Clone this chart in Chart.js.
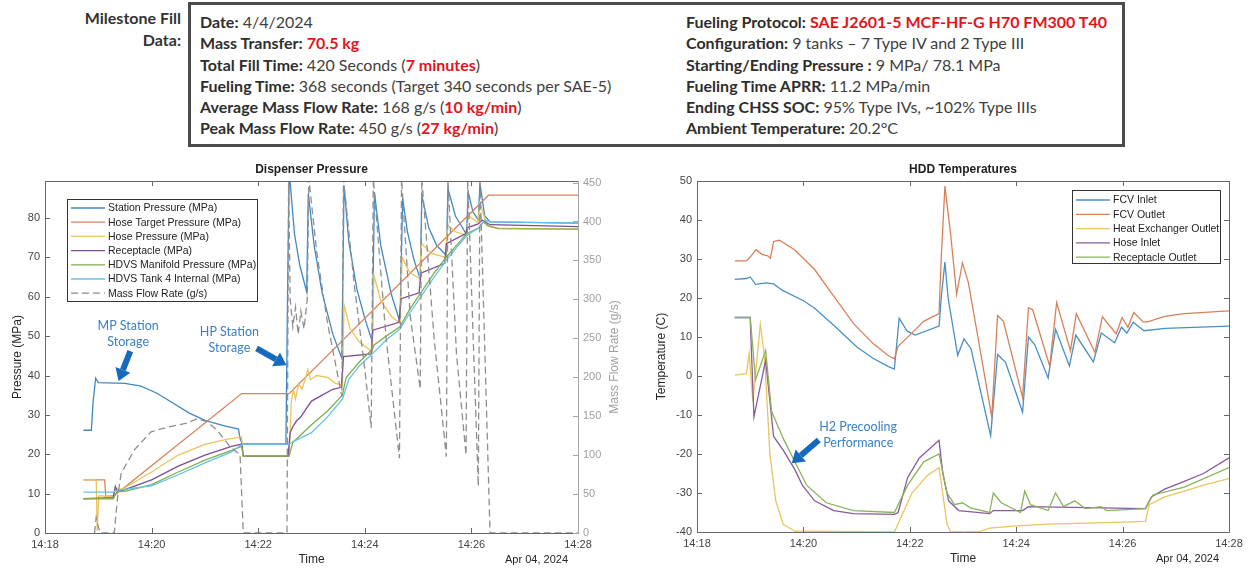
<!DOCTYPE html>
<html>
<head>
<meta charset="utf-8">
<script src="https://cdn.jsdelivr.net/npm/chart.js@4.4.1/dist/chart.umd.min.js"></script>
<style>
  body { margin:0; width:1250px; height:569px; background:#fff; position:relative; overflow:hidden; font-family:Lato, "Open Sans", sans-serif; }
  .side { position:absolute; left:40px; top:7px; width:141px; text-align:right; font-weight:700; font-size:16px; line-height:22px; color:#333; }
  .box { position:absolute; left:188px; top:2px; width:937px; height:145px; box-sizing:border-box; border:3px solid #4b4b4b; }
  .col { position:absolute; top:11px; font-size:16px; line-height:21.3px; color:#404040; white-space:nowrap; }
  .col b { color:#2e2e2e; font-weight:700; }
  .col .r { color:#e3141b; font-weight:700; }
  canvas { position:absolute; }
</style>
</head>
<body>
<div class="side">Milestone Fill<br>Data:</div>
<div class="box"></div>
<div class="col" style="left:200px">
  <div><b>Date:</b> 4/4/2024</div>
  <div><b>Mass Transfer:</b> <span class="r">70.5 kg</span></div>
  <div><b>Total Fill Time:</b> 420 Seconds (<span class="r">7 minutes</span>)</div>
  <div><b>Fueling Time:</b> 368 seconds (Target 340 seconds per SAE-5)</div>
  <div><b>Average Mass Flow Rate:</b> 168 g/s (<span class="r">10 kg/min</span>)</div>
  <div><b>Peak Mass Flow Rate:</b> 450 g/s (<span class="r">27 kg/min</span>)</div>
</div>
<div class="col" style="left:686px">
  <div><b>Fueling Protocol:</b> <span class="r">SAE J2601-5 MCF-HF-G H70 FM300 T40</span></div>
  <div><b>Configuration:</b> 9 tanks – 7 Type IV and 2 Type III</div>
  <div><b>Starting/Ending Pressure :</b> 9 MPa/ 78.1 MPa</div>
  <div><b>Fueling Time APRR:</b> 11.2 MPa/min</div>
  <div><b>Ending CHSS SOC:</b> 95% Type IVs, ~102% Type IIIs</div>
  <div><b>Ambient Temperature:</b> 20.2°C</div>
</div>
<canvas id="press" width="625" height="414" style="left:0;top:155px"></canvas>
<canvas id="temp" width="620" height="414" style="left:630px;top:155px"></canvas>
<script>
// time axis: minutes after 14:18 on Apr 04, 2024
var timeTicks = ['14:18', '14:20', '14:22', '14:24', '14:26', '14:28'];
var pressTicks = [0, 10, 20, 30, 40, 50, 60, 70, 80];
var flowTicks  = [0, 50, 100, 150, 200, 250, 300, 350, 400, 450];
var tempTicks  = [-40, -30, -20, -10, 0, 10, 20, 30, 40, 50];

// ── Dispenser Pressure (MPa, left axis) ──
var stationT = [0.72,0.87,0.9,0.95,1.0,1.5,1.8,2.1,2.4,2.7,3.0,3.35,3.63,3.66,3.7,4.52,4.55,4.58,4.6,4.68,4.78,4.91,4.94,5.05,5.2,5.4,5.57,5.61,5.7,5.85,6.0,6.14,6.18,6.3,6.5,6.66,6.71,6.8,6.92,7.04,7.07,7.2,7.35,7.53,7.56,7.7,7.91,7.94,8.03,8.13,8.16,8.25,8.35,10];
var stationP = [26.1,26.1,33,39.3,38.2,38,37.3,35.5,33,30.5,28.6,27.3,26.4,24,22.6,22.6,60,90,89,76,68,61.2,86.2,73,61,50.5,44.3,88.3,74,62,54.5,48.6,86.6,73,60.5,53.6,85,76.5,69.5,64.5,85.8,77.5,73,70.5,87.5,80.5,75.8,86.6,81.5,79.5,88.8,80.5,79,78.7];

var targetT = [0.72,1.12,1.14,1.3,3.69,4.58,8.32,10];
var targetP = [13.5,13.5,9.3,9.5,35.4,35.4,85.8,85.8];

var hoseT = [0.72,0.96,0.98,1.01,1.28,1.32,1.4,1.5,2.0,2.5,3.0,3.4,3.69,3.72,4.58,4.62,4.66,4.7,4.76,4.82,4.88,4.93,4.98,5.1,5.3,5.45,5.58,5.61,5.72,5.9,6.14,6.17,6.3,6.5,6.66,6.7,6.85,7.03,7.06,7.25,7.52,7.55,7.7,7.91,7.94,8.12,8.16,8.3,8.5,10];
var hoseP = [13.5,13.5,0.5,9.5,9.2,11.5,11,11.5,15.5,19.8,22.5,23.8,24.4,19.5,19.5,33,36.5,34,38,36.5,39,41.5,39,40,39.5,38,37.5,58,52,48.5,46,65.5,59,55,53.3,70,66,64.7,73.6,71,70,78.2,76.5,75.6,80.7,78.8,83.7,78,77.4,77.2];

var receptT = [0.72,1.28,1.32,1.36,1.5,2.0,2.5,3.0,3.5,3.69,3.72,4.56,4.6,4.65,4.72,4.8,4.9,5.0,5.2,5.4,5.56,5.6,6.12,6.15,6.64,6.68,7.02,7.05,7.5,7.53,7.89,7.92,8.13,8.2,8.35,10];
var receptP = [8.7,9,11.8,10.5,11,13.5,17,19.8,22,22.6,19.5,19.5,25.5,27,28.5,29.5,31.5,33.5,35,36.5,37,44.8,45.5,51.5,53.5,59.5,61,66,68.5,73.5,76,77.5,78.5,79.5,78.3,77.8];

var manifoldT = [0.72,1.28,1.35,1.5,2.0,2.5,3.0,3.5,3.69,3.72,4.58,4.65,5.0,5.3,5.58,5.65,5.9,6.14,6.17,6.4,6.66,6.85,7.04,7.3,7.53,7.75,7.91,8.14,8.22,8.32,8.5,10];
var manifoldP = [8.7,8.7,10.5,10.6,12.3,15.5,18.5,21,22,19.5,19.5,23,27.5,31,35,39.5,43.5,46.6,47.7,50,52.4,57,60.8,66,70.1,73.5,76,77.5,79,78,77.3,77.2];

var tankT = [0.72,1.28,1.35,2.0,2.5,3.0,3.5,3.7,4.55,4.6,5.0,5.3,5.58,5.7,5.9,6.14,6.4,6.66,6.85,7.04,7.3,7.53,7.75,7.91,8.14,8.25,8.35,10];
var tankP = [10.4,10.4,10.8,12.0,14.8,17.8,20.6,22.5,22.5,22.8,25.5,29.5,34,39,42.5,45.5,49,51.8,56,59.8,65,69.3,73,75.5,77.5,79.5,79,78.7];

// mass flow rate (g/s, right axis)
var flowT = [0.93,0.96,1.0,1.04,1.3,1.36,1.43,1.68,1.99,2.3,2.66,2.85,3.04,3.23,3.47,3.66,3.72,4.54,4.57,4.6,4.65,4.7,4.75,4.8,4.86,4.92,4.95,5.1,5.3,5.57,5.6,5.8,6.0,6.12,6.16,6.4,6.65,6.69,6.85,7.04,7.07,7.3,7.53,7.56,7.72,7.9,7.93,8.13,8.16,8.35,10];
var flowG = [0,20,8,0,0,45,77,107,130,136,141,146.5,143,132,111,100,0,0,455,300,265,290,255,285,262,300,455,360,270,175,455,320,210,135,455,250,96,455,280,185,455,250,98,455,230,100,455,60,455,0,0];

// ── HDD Temperatures (°C) ──
var fcvInT = [0.71,0.93,1.0,1.1,1.3,1.44,1.6,2.0,2.2,2.57,3.0,3.3,3.6,3.71,3.8,3.95,4.1,4.55,4.59,4.66,4.72,4.9,5.02,5.15,5.52,5.65,5.8,6.12,6.23,6.35,6.6,6.74,7.0,7.12,7.45,7.6,7.85,7.98,8.08,8.2,8.4,8.8,10];
var fcvInC = [24.8,25,25.4,23.5,23.9,23.6,22,19.3,17.5,13,7.5,4.6,2.4,1.8,14.8,11.5,10.5,12.8,20,29.2,20,5.3,9.5,7,-15.3,5.5,3.5,-9.3,10,8,-0.5,12,2.6,10.5,3.6,11,8.5,12.5,11,13.8,11.6,12.2,12.8];

var fcvOutT = [0.71,0.93,1.0,1.11,1.22,1.33,1.38,1.44,1.55,1.84,2.21,2.57,2.94,3.31,3.6,3.71,3.78,4.04,4.26,4.55,4.59,4.66,4.77,4.88,4.99,5.1,5.28,5.54,5.65,5.76,6.12,6.23,6.31,6.63,6.76,7.02,7.13,7.48,7.62,7.88,7.99,8.1,8.21,8.39,8.5,8.79,9.16,10];
var fcvOutC = [29.5,29.5,30.5,32.4,31.2,30.8,30.2,34.5,34.8,32.3,27.3,20.5,13.5,8.3,5.2,4.4,7.6,11,14,16,30,48.7,36,21,29,24,10,-10.5,15.5,14,-5.5,17.5,17,2.5,18.8,6.5,16,6,15.2,10.8,15,12.5,16.3,13.8,14,15.3,16,16.7];

var hxOutT = [0.71,0.93,0.98,1.05,1.19,1.27,1.37,1.48,1.62,1.84,3.71,4.04,4.33,4.55,4.7,4.77,5.28,5.5,5.94,6.6,7.7,8.43,8.5,8.79,9.16,9.52,10];
var hxOutC = [0.2,0.6,5.8,-6.5,13.2,5,-20,-32,-38,-39.8,-40,-30,-25.5,-23.5,-38,-40,-40,-39,-38.5,-38,-37.6,-37.3,-33,-31,-29.5,-28,-26.3];

var hoseInT = [0.71,1.0,1.07,1.29,1.44,1.62,1.84,1.98,2.21,2.57,2.94,3.71,3.78,3.96,4.18,4.55,4.62,4.73,4.92,5.5,5.57,6.12,6.23,8.43,8.54,8.79,9.16,9.52,10];
var hoseInC = [15,15,-10.5,4,-15.5,-19,-24,-28,-32,-34.5,-35.3,-35.5,-35,-26,-21,-16.5,-25,-32,-34.5,-35.3,-34.5,-34.5,-33.5,-34,-31,-29,-27,-25,-21];

var recOutT = [0.71,1.0,1.1,1.29,1.4,1.62,1.84,2.06,2.43,2.94,3.71,3.96,4.26,4.55,4.7,4.84,4.99,5.14,5.5,5.57,5.72,6.08,6.16,6.27,6.6,6.74,6.89,7.1,7.3,7.6,7.7,8.43,8.57,9.16,10];
var recOutC = [15,15,-1,6.5,-9,-16,-22,-28,-32.5,-34.5,-35,-28,-22,-20,-30,-33,-32.5,-33.8,-35,-30,-32.5,-35,-29.5,-33,-34.5,-30,-33.5,-32,-34,-33.5,-34.5,-34,-30.5,-28.5,-23.5];

function pts(ts, vs) { return ts.map(function(t, i) { return { x:t, y:vs[i] }; }); }

var AXIS_FONT = { family:'"Liberation Sans", Arial, sans-serif', size:11 };

// MATLAB-ish frame: box, inward ticks, titles, inside legend, callouts
var framePlugin = {
  id: 'frame',
  afterDraw: function(chart, args, o) {
    var ctx = chart.ctx, a = chart.chartArea, sx = chart.scales.x, sy = chart.scales.y, sy2 = chart.scales.y2;
    ctx.save();
    ctx.lineWidth = 1;
    ctx.strokeStyle = '#666';
    ctx.beginPath();
    ctx.moveTo(a.left + .5, a.top + .5); ctx.lineTo(a.left + .5, a.bottom + .5);
    ctx.lineTo(a.right + .5, a.bottom + .5);
    ctx.moveTo(a.left + .5, a.top + .5); ctx.lineTo(a.right + .5, a.top + .5);
    if (!sy2) ctx.lineTo(a.right + .5, a.bottom + .5);
    sx.ticks.forEach(function(t) {
      var px = Math.round(sx.getPixelForValue(t.value)) + .5;
      ctx.moveTo(px, a.bottom); ctx.lineTo(px, a.bottom - 5);
      ctx.moveTo(px, a.top); ctx.lineTo(px, a.top + 5);
    });
    sy.ticks.forEach(function(t) {
      var py = Math.round(sy.getPixelForValue(t.value)) + .5;
      ctx.moveTo(a.left, py); ctx.lineTo(a.left + 5, py);
      if (!sy2) { ctx.moveTo(a.right, py); ctx.lineTo(a.right - 5, py); }
    });
    ctx.stroke();
    if (sy2) {
      ctx.strokeStyle = '#a6a6a6';
      ctx.beginPath();
      ctx.moveTo(a.right + .5, a.top); ctx.lineTo(a.right + .5, a.bottom + 1);
      sy2.ticks.forEach(function(t) {
        var py = Math.round(sy2.getPixelForValue(t.value)) + .5;
        ctx.moveTo(a.right, py); ctx.lineTo(a.right - 5, py);
      });
      ctx.stroke();
    }

    var cx = (a.left + a.right) / 2, cy = (a.top + a.bottom) / 2;
    ctx.fillStyle = '#1e1e1e';
    ctx.font = 'bold 12px "Liberation Sans", Arial, sans-serif';
    ctx.textAlign = 'center'; ctx.textBaseline = 'middle';
    ctx.fillText(o.title, cx, a.top - 11);
    ctx.font = '12px "Liberation Sans", Arial, sans-serif';
    ctx.fillStyle = '#262626';
    ctx.fillText('Time', cx, a.bottom + 27);
    ctx.font = '11px "Liberation Sans", Arial, sans-serif';
    ctx.textAlign = 'right';
    ctx.fillText(o.date, a.right - 10, a.bottom + 27);
    ctx.font = '12px "Liberation Sans", Arial, sans-serif';
    ctx.textAlign = 'center';
    ctx.save(); ctx.translate(o.yTitleX, cy); ctx.rotate(-Math.PI / 2); ctx.fillText(o.yTitle, 0, 0); ctx.restore();
    if (o.y2Title) {
      ctx.fillStyle = '#a0a0a0';
      ctx.save(); ctx.translate(o.y2TitleX, cy); ctx.rotate(-Math.PI / 2); ctx.fillText(o.y2Title, 0, 0); ctx.restore();
    }

    // legend box
    var L = o.legend;
    var bx = L.fromRight ? a.right - L.dx - L.w : a.left + L.dx, by = a.top + L.dy;
    ctx.fillStyle = '#fff'; ctx.fillRect(bx, by, L.w, L.h);
    ctx.strokeStyle = '#333'; ctx.lineWidth = 1;
    ctx.strokeRect(Math.round(bx) + .5, Math.round(by) + .5, L.w, L.h);
    ctx.font = '10.5px "Liberation Sans", Arial, sans-serif';
    ctx.textAlign = 'left';
    chart.data.datasets.forEach(function(ds, i) {
      var ry = by + L.first + i * L.step;
      ctx.strokeStyle = ds.borderColor; ctx.lineWidth = 1.3;
      ctx.setLineDash(ds.borderDash || []);
      ctx.beginPath(); ctx.moveTo(bx + 4, ry); ctx.lineTo(bx + 38, ry); ctx.stroke();
      ctx.setLineDash([]);
      ctx.fillStyle = '#222';
      ctx.fillText(ds.label, bx + 41, ry + .5);
    });

    // blue callouts with arrows
    o.notes.forEach(function(n) {
      ctx.font = '12.5px Lato, "Open Sans", sans-serif';
      ctx.fillStyle = '#3a80c4';
      ctx.textAlign = 'center';
      n.lines.forEach(function(s, k) {
        ctx.fillText(s, sx.getPixelForValue(n.x), sy.getPixelForValue(n.y) + k * 16);
      });
      var x1 = sx.getPixelForValue(n.ax[0]), y1 = sy.getPixelForValue(n.ay[0]);
      var x2 = sx.getPixelForValue(n.ax[1]), y2 = sy.getPixelForValue(n.ay[1]);
      var ang = Math.atan2(y2 - y1, x2 - x1), hl = 12, hw = 8;
      var hx = x2 - hl * Math.cos(ang), hy = y2 - hl * Math.sin(ang);
      ctx.strokeStyle = '#1669bd'; ctx.fillStyle = '#1669bd';
      ctx.lineWidth = 6; ctx.lineCap = 'butt';
      ctx.beginPath(); ctx.moveTo(x1, y1); ctx.lineTo(hx, hy); ctx.stroke();
      ctx.beginPath(); ctx.moveTo(x2, y2);
      ctx.lineTo(hx + hw * Math.sin(ang), hy - hw * Math.cos(ang));
      ctx.lineTo(hx - hw * Math.sin(ang), hy + hw * Math.cos(ang));
      ctx.closePath(); ctx.fill();
    });
    ctx.restore();
  }
};

function timeAxis(h) {
  return {
    type:'linear', min:0, max:10,
    grid:{ display:false, drawTicks:false }, border:{ display:false },
    ticks:{ maxRotation:0, autoSkip:false, padding:5, color:'#444', font:AXIS_FONT,
      callback:function(v) { return timeTicks[Math.round(v / 2)]; } },
    afterBuildTicks:function(s) { s.ticks = timeTicks.map(function(_, i) { return { value:i * 2 }; }); },
    afterFit:function(s) { s.height = h; }
  };
}
function valueAxis(pos, min, max, list, w, color) {
  return {
    type:'linear', position:pos, min:min, max:max,
    grid:{ display:false, drawTicks:false }, border:{ display:false },
    ticks:{ autoSkip:false, padding:5, color:color, font:AXIS_FONT },
    afterBuildTicks:function(s) { s.ticks = list.map(function(v) { return { value:v }; }); },
    afterFit:function(s) { s.width = w; }
  };
}
function line(label, color, data, axis, dash) {
  return { label:label, data:data, borderColor:color, backgroundColor:color, borderWidth:1.3,
    borderDash:dash || [], yAxisID:axis || 'y', pointRadius:0, tension:0, fill:false };
}
function ordered(list) {
  list.forEach(function(d, i) { d.order = list.length - i; });
  return list;
}

new Chart(document.getElementById('press'), {
  type:'line',
  plugins:[framePlugin],
  data:{ datasets: ordered([
    line('Station Pressure (MPa)', '#3f89c3', pts(stationT, stationP)),
    line('Hose Target Pressure (MPa)', '#d8825c', pts(targetT, targetP)),
    line('Hose Pressure (MPa)', '#ecc35c', pts(hoseT, hoseP)),
    line('Receptacle (MPa)', '#7e4c92', pts(receptT, receptP)),
    line('HDVS Manifold Pressure (MPa)', '#83ad4e', pts(manifoldT, manifoldP)),
    line('HDVS Tank 4 Internal (MPa)', '#63c3ea', pts(tankT, tankP)),
    line('Mass Flow Rate (g/s)', '#8e8e8e', pts(flowT, flowG), 'y2', [7, 4])
  ]) },
  options:{
    responsive:false, animation:false, devicePixelRatio:1,
    layout:{ padding:{ top:26, left:0, right:0, bottom:0 } },
    plugins:{
      legend:{ display:false }, tooltip:{ enabled:false },
      frame:{
        title:'Dispenser Pressure', date:'Apr 04, 2024',
        yTitle:'Pressure (MPa)', yTitleX:18, y2Title:'Mass Flow Rate (g/s)', y2TitleX:615,
        legend:{ dx:22, dy:18, w:190, h:102, first:9, step:14.2 },
        notes:[
          { lines:['MP Station', 'Storage'], x:1.56, y:52.6, ax:[1.6, 1.38], ay:[46.2, 38.6] },
          { lines:['HP Station', 'Storage'], x:3.46, y:51.1, ax:[3.97, 4.53], ay:[46.9, 42.6] }
        ]
      }
    },
    scales:{
      x: timeAxis(36),
      y: valueAxis('left', 0, 89.4, pressTicks, 45, '#444'),
      y2: valueAxis('right', 0, 452, flowTicks, 47, '#a0a0a0')
    }
  }
});

new Chart(document.getElementById('temp'), {
  type:'line',
  plugins:[framePlugin],
  data:{ datasets: ordered([
    line('FCV Inlet', '#4a8fc4', pts(fcvInT, fcvInC)),
    line('FCV Outlet', '#d9805a', pts(fcvOutT, fcvOutC)),
    line('Heat Exchanger Outlet', '#ecc45e', pts(hxOutT, hxOutC)),
    line('Hose Inlet', '#8a5a9e', pts(hoseInT, hoseInC)),
    line('Receptacle Outlet', '#8ab35a', pts(recOutT, recOutC))
  ]) },
  options:{
    responsive:false, animation:false, devicePixelRatio:1,
    layout:{ padding:{ top:26, left:0, right:21, bottom:0 } },
    plugins:{
      legend:{ display:false }, tooltip:{ enabled:false },
      frame:{
        title:'HDD Temperatures', date:'Apr 04, 2024',
        yTitle:'Temperature (C)', yTitleX:32,
        legend:{ fromRight:true, dx:9, dy:9, w:148, h:73, first:10, step:14.3 },
        notes:[
          { lines:['H2 Precooling', 'Performance'], x:3.03, y:-13, ax:[2.29, 1.78], ay:[-16.4, -22.4] }
        ]
      }
    },
    scales:{
      x: timeAxis(37),
      y: valueAxis('left', -40, 50, tempTicks, 67, '#444')
    }
  }
});
</script>
</body>
</html>
